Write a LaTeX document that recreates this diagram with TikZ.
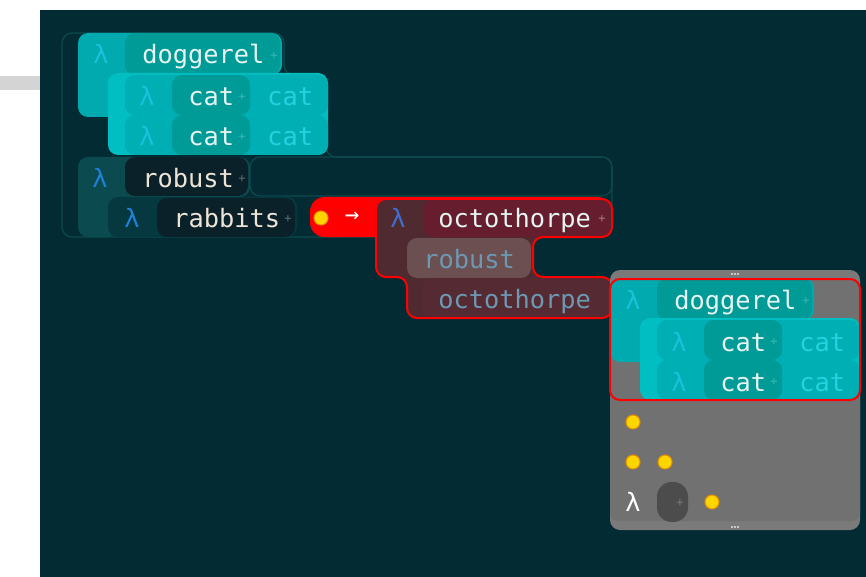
\documentclass[tikz,border=0pt]{standalone}
\usepackage{fontspec}
\newfontfamily\codefont{DejaVu Sans Mono}
\definecolor{panel}{HTML}{032B33}
\definecolor{bar}{HTML}{D4D4D4}
\definecolor{outline}{HTML}{0C4A50}
\definecolor{dogblk}{HTML}{00AAAE}
\definecolor{dogpill}{HTML}{009A97}
\definecolor{catcont}{HTML}{00BEC1}
\definecolor{catrow}{HTML}{00AFB3}
\definecolor{cyanlam}{HTML}{18C2DA}
\definecolor{cyantext}{HTML}{22D3E0}
\definecolor{lighttext}{HTML}{E6F5F2}
\definecolor{tealplus}{HTML}{3CB8B1}
\definecolor{robblk}{HTML}{0B4B4F}
\definecolor{rabblk}{HTML}{063840}
\definecolor{darkpill}{HTML}{0B2129}
\definecolor{bluelam}{HTML}{1F80D8}
\definecolor{warmtext}{HTML}{EDE3D6}
\definecolor{darkplus}{HTML}{5B6F72}
\definecolor{redsel}{HTML}{FF0000}
\definecolor{maroon}{HTML}{502A31}
\definecolor{octpill}{HTML}{661D2D}
\definecolor{robpill}{HTML}{6B4F51}
\definecolor{octpilltwo}{HTML}{562A33}
\definecolor{steel}{HTML}{6D98B2}
\definecolor{maroonlam}{HTML}{3F6ED0}
\definecolor{maroonplus}{HTML}{A07F86}
\definecolor{graybox}{HTML}{7A7A7A}
\definecolor{grayin}{HTML}{717171}
\definecolor{graypill}{HTML}{4C4C4C}
\definecolor{dotfill}{HTML}{FFD500}
\definecolor{dotrim}{HTML}{E49100}
\tikzset{
  blk/.style={rounded corners=7.5pt},
  word/.style={font=\codefont\fontsize{19}{22}\selectfont, inner sep=0pt, anchor=base west},
  lam/.style={font=\codefont\fontsize{19}{22}\selectfont, inner sep=0pt, anchor=base},
  plus/.style={font=\codefont\fontsize{9}{10}\selectfont, inner sep=0pt},
  dot/.style={circle, fill=dotfill, draw=dotrim, line width=0.8pt, minimum size=10.5pt, inner sep=0pt},
  handle/.style={circle, fill=white!80!graybox, inner sep=0pt, minimum size=1.6pt}
}
\begin{document}
\begin{tikzpicture}[x=0.75pt,y=-0.75pt]
\useasboundingbox (0,0) rectangle (866,577);
\fill[white] (0,0) rectangle (866,577);
\fill[bar] (0,76) rectangle (40,90);
\fill[panel] (40,10) rectangle (866,577);
% outline of the whole top expression
\draw[outline, line width=0.9pt, blk] (62,33) -- (284,33) -- (284,75) -- (326,75) -- (326,157) -- (612,157) -- (612,237) -- (62,237) -- cycle;
\draw[outline, line width=0.9pt, blk] (250,157) rectangle (612,196);
% doggerel tree
\fill[dogblk, blk] (78,33) -- (282,33) -- (282,75) -- (118,75) -- (118,117) -- (78,117) -- cycle;
\fill[dogpill, blk] (125,33) rectangle (280,75);
\node[lam, text=cyanlam] (doglam) at (101,64) {λ};
\node[word, text=lighttext] (dog) at (142,64) {doggerel};
\node[plus, text=tealplus] (dogplus) at (274,56) {+};
\fill[catcont, blk] (108,73) rectangle (328,155);
\fill[catrow, blk] (125,75) rectangle (328,115);
\fill[dogpill, blk] (172,75) rectangle (250,115);
\node[lam, text=cyanlam] (catlama) at (147,106) {λ};
\node[word, text=lighttext] (cata) at (188,106) {cat};
\node[plus, text=tealplus] (catplusa) at (242,97) {+};
\node[word, text=cyantext] (catvala) at (267,106) {cat};
\fill[catrow, blk] (125,115) rectangle (328,155);
\fill[dogpill, blk] (172,115) rectangle (250,155);
\node[lam, text=cyanlam] (catlamb) at (147,146) {λ};
\node[word, text=lighttext] (catb) at (188,146) {cat};
\node[plus, text=tealplus] (catplusb) at (242,137) {+};
\node[word, text=cyantext] (catvalb) at (267,146) {cat};
% robust / rabbits
\fill[robblk, blk] (78,157) -- (250,157) -- (250,197) -- (118,197) -- (118,237) -- (78,237) -- cycle;
\fill[darkpill, blk] (125,157) rectangle (248,196);
\node[lam, text=bluelam] (roblam) at (100,188) {λ};
\node[word, text=warmtext] (rob) at (142,188) {robust};
\node[plus, text=darkplus] (robplus) at (242,179) {+};
\fill[rabblk, blk] (108,197) rectangle (297,237);
\fill[darkpill, blk] (157,198) rectangle (295,237);
\node[lam, text=bluelam] (rablam) at (132,228) {λ};
\node[word, text=warmtext] (rab) at (173,228) {rabbits};
\node[plus, text=darkplus] (rabplus) at (288,219) {+};
% selected arrow
\fill[redsel, rounded corners=11pt] (310,197) rectangle (612,237);
\node[dot] (seldot) at (321,218) {};
\node[font=\codefont\fontsize{18}{20}\selectfont, text=white, inner sep=0pt] (arr) at (352,217) {→};
\fill[maroon, blk] (376,199) -- (612,199) -- (612,237) -- (533,237) -- (533,277) -- (612,277) -- (612,318) -- (407,318) -- (407,277) -- (376,277) -- cycle;
\fill[octpill, blk] (423,199) rectangle (610,237);
\fill[robpill, blk] (407,238) rectangle (531,278);
\fill[octpilltwo, blk] (422,278) rectangle (610,318);
\draw[redsel, line width=1.5pt, blk] (376,199) -- (612,199) -- (612,237) -- (533,237) -- (533,277) -- (612,277) -- (612,318) -- (407,318) -- (407,277) -- (376,277) -- cycle;
\node[lam, text=maroonlam] (octlam) at (398,228) {λ};
\node[word, text=lighttext] (oct) at (438,228) {octothorpe};
\node[plus, text=maroonplus] (octplus) at (602,219) {+};
\node[word, text=steel] (robref) at (423,268) {robust};
\node[word, text=steel] (octref) at (438,308) {octothorpe};
% gray palette box
\fill[graybox, rounded corners=7.5pt] (610,270) rectangle (860,530);
\fill[grayin, rounded corners=6pt] (610,279) rectangle (860,521);
\node[handle] (topa) at (732,274) {};
\node[handle] (topb) at (735,274) {};
\node[handle] (topc) at (738,274) {};
\node[handle] (bota) at (732,527) {};
\node[handle] (botb) at (735,527) {};
\node[handle] (botc) at (738,527) {};
\begin{scope}[shift={(532,245)}]
\fill[dogblk, blk] (78,33) -- (282,33) -- (282,75) -- (118,75) -- (118,117) -- (78,117) -- cycle;
\fill[dogpill, blk] (125,33) rectangle (280,75);
\node[lam, text=cyanlam] (cdoglam) at (101,64) {λ};
\node[word, text=lighttext] (cdog) at (142,64) {doggerel};
\node[plus, text=tealplus] (cdogplus) at (274,56) {+};
\fill[catcont, blk] (108,73) rectangle (328,155);
\fill[catrow, blk] (125,75) rectangle (328,115);
\fill[dogpill, blk] (172,75) rectangle (250,115);
\node[lam, text=cyanlam] (ccatlama) at (147,106) {λ};
\node[word, text=lighttext] (ccata) at (188,106) {cat};
\node[plus, text=tealplus] (ccatplusa) at (242,97) {+};
\node[word, text=cyantext] (ccatvala) at (267,106) {cat};
\fill[catrow, blk] (125,115) rectangle (328,155);
\fill[dogpill, blk] (172,115) rectangle (250,155);
\node[lam, text=cyanlam] (ccatlamb) at (147,146) {λ};
\node[word, text=lighttext] (ccatb) at (188,146) {cat};
\node[plus, text=tealplus] (ccatplusb) at (242,137) {+};
\node[word, text=cyantext] (ccatvalb) at (267,146) {cat};
\end{scope}
\draw[redsel, line width=1.5pt, rounded corners=7.5pt] (610,279) rectangle (860,400);
\node[dot] (dota) at (633,422) {};
\node[dot] (dotb) at (633,462) {};
\node[dot] (dotc) at (665,462) {};
\node[lam, text=white] (graylam) at (633,511) {λ};
\fill[graypill, rounded corners=11pt] (657,482) rectangle (688,522);
\node[plus, text=graybox] (grayplus) at (680,503) {+};
\node[dot] (dotd) at (712,502) {};
\end{tikzpicture}
\end{document}
